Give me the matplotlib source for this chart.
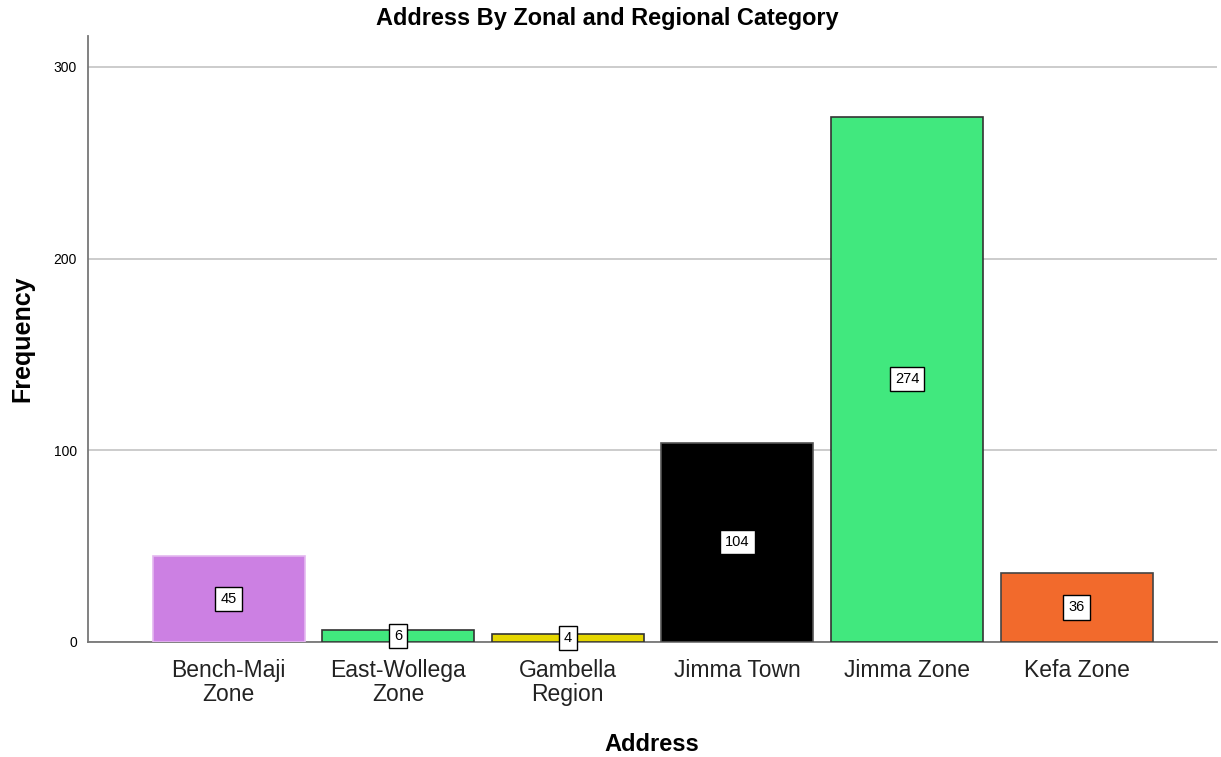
import matplotlib
matplotlib.use("Agg")
import matplotlib.pyplot as plt

plt.rcParams['font.family'] = ['Liberation Sans', 'DejaVu Sans']

categories = ["Bench-Maji\nZone", "East-Wollega\nZone", "Gambella\nRegion",
              "Jimma Town", "Jimma Zone", "Kefa Zone"]
counts = [45, 6, 4, 104, 274, 36]
colors = ["#cc80e3", "#41e87e", "#e5d600", "#000000", "#41e87e", "#f26a2c"]
edges = ["#e4b8f0", "#333333", "#333333", "#555555", "#333333", "#444444"]

fig = plt.figure(figsize=(12.21, 7.57), dpi=100)
ax = fig.add_axes([0.072, 0.152, 0.925, 0.8])

x = range(len(categories))
ax.bar(x, counts, width=0.897, color=colors, edgecolor=edges, linewidth=1.2, zorder=3)

# value labels sit in the middle of each bar
for xi, v in zip(x, counts):
    ax.text(xi, v / 2, str(v), ha='center', va='center', fontsize=10.5, zorder=4,
            bbox=dict(boxstyle='square,pad=0.35', fc='white', ec='black', lw=1))

ax.set_xlim(-0.83, 5.83)
ax.set_ylim(0, 316)
ax.set_yticks([0, 100, 200, 300])
ax.yaxis.grid(True, color='#c8c8c8', linewidth=1.3, zorder=0)
ax.set_axisbelow(True)

ax.set_xticks(list(x))
ax.set_xticklabels(categories, fontsize=16.5, color='#222222', linespacing=1.05)
ax.tick_params(axis='x', length=0, pad=12)
ax.tick_params(axis='y', length=0, labelsize=10, pad=8)

for s in ['top', 'right']:
    ax.spines[s].set_visible(False)
for s in ['left', 'bottom']:
    ax.spines[s].set_color('#777777')
    ax.spines[s].set_linewidth(1.3)

fig.text(0.497, 0.976, "Address By Zonal and Regional Category", fontsize=16.9,
         fontweight='bold', ha='center', va='center')
fig.text(0.018, 0.553, "Frequency", fontsize=18, fontweight='bold',
         rotation=90, ha='center', va='center')
fig.text(0.534, 0.017, "Address", fontsize=17, fontweight='bold',
         ha='center', va='center')

fig.savefig("out.png", dpi=100)
